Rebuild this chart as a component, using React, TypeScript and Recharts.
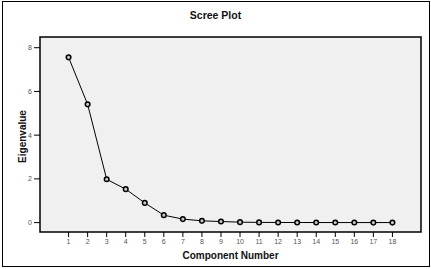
import { LineChart, Line, XAxis, YAxis, ReferenceArea, Label } from "recharts";

// Scree plot: eigenvalue per component
const components = [1, 2, 3, 4, 5, 6, 7, 8, 9, 10, 11, 12, 13, 14, 15, 16, 17, 18];
const eigenvalues = [
  7.56, 5.41, 1.98, 1.53, 0.9, 0.34, 0.16, 0.08, 0.05, 0.02, 0.01, 0.005, 0.004,
  0.003, 0.002, 0.002, 0.001, 0.001,
];
const yTicks = [0, 2, 4, 6, 8];

const X_DOMAIN: [number, number] = [-0.5, 19.5];
const Y_DOMAIN: [number, number] = [-0.43, 8.49];

const FONT = "'Liberation Sans', Arial, sans-serif";

const data = components.map((c, i) => ({ component: c, eigen: eigenvalues[i] }));

export default function App() {
  return (
    <div
      style={{
        position: "absolute",
        left: 0,
        top: 0,
        width: 431,
        height: 269,
        background: "#fff",
        fontFamily: FONT,
      }}
    >
      {/* outer frame */}
      <div
        style={{
          position: "absolute",
          left: 2,
          top: 1,
          width: 426,
          height: 264,
          border: "1px solid #000",
        }}
      />
      <div
        style={{
          position: "absolute",
          left: 0,
          top: 9,
          width: 431,
          textAlign: "center",
          fontSize: 10.5,
          fontWeight: "bold",
          lineHeight: "12px",
          color: "#111",
        }}
      >
        Scree Plot
      </div>
      <LineChart
        width={431}
        height={269}
        data={data}
        margin={{ top: 37, right: 10, bottom: 0, left: 0 }}
        style={{ position: "absolute", left: 0, top: 0 }}
      >
        <XAxis
          dataKey="component"
          type="number"
          domain={X_DOMAIN}
          ticks={components}
          interval={0}
          allowDataOverflow
          height={37}
          axisLine={false}
          tickSize={5}
          tickLine={{ stroke: "#000", strokeWidth: 1 }}
          tick={{ fontSize: 7, fill: "#555", fontFamily: FONT }}
        >
          <Label
            value="Component Number"
            position="insideBottom"
            offset={10}
            style={{ fontSize: 10, fontWeight: "bold", fill: "#111", fontFamily: FONT }}
          />
        </XAxis>
        <YAxis
          type="number"
          domain={Y_DOMAIN}
          ticks={yTicks}
          allowDataOverflow
          width={40}
          axisLine={false}
          tickSize={6}
          tickLine={{ stroke: "#000", strokeWidth: 1 }}
          tick={{ fontSize: 7, fill: "#555", fontFamily: FONT }}
        >
          <Label
            content={(props: any) => {
              const vb = props.viewBox || { x: 0, y: 37, width: 40, height: 195 };
              const cx = vb.x + 22.5;
              const cy = vb.y + vb.height / 2 + 2;
              return (
                <text
                  x={cx}
                  y={cy}
                  transform={`rotate(-90, ${cx}, ${cy})`}
                  textAnchor="middle"
                  dominantBaseline="central"
                  style={{ fontSize: 10, fontWeight: "bold", fill: "#111", fontFamily: FONT }}
                >
                  Eigenvalue
                </text>
              );
            }}
          />
        </YAxis>
        <ReferenceArea
          x1={X_DOMAIN[0]}
          x2={X_DOMAIN[1]}
          y1={Y_DOMAIN[0]}
          y2={Y_DOMAIN[1]}
          fill="#f0f0f0"
          fillOpacity={1}
          stroke="#000"
          strokeWidth={1.5}
          ifOverflow="visible"
        />
        <Line
          dataKey="eigen"
          type="linear"
          stroke="#000"
          strokeWidth={1}
          dot={{ r: 2.3, stroke: "#000", strokeWidth: 1.5, fill: "#c8c8c8" }}
          activeDot={false}
          isAnimationActive={false}
        />
      </LineChart>
    </div>
  );
}
